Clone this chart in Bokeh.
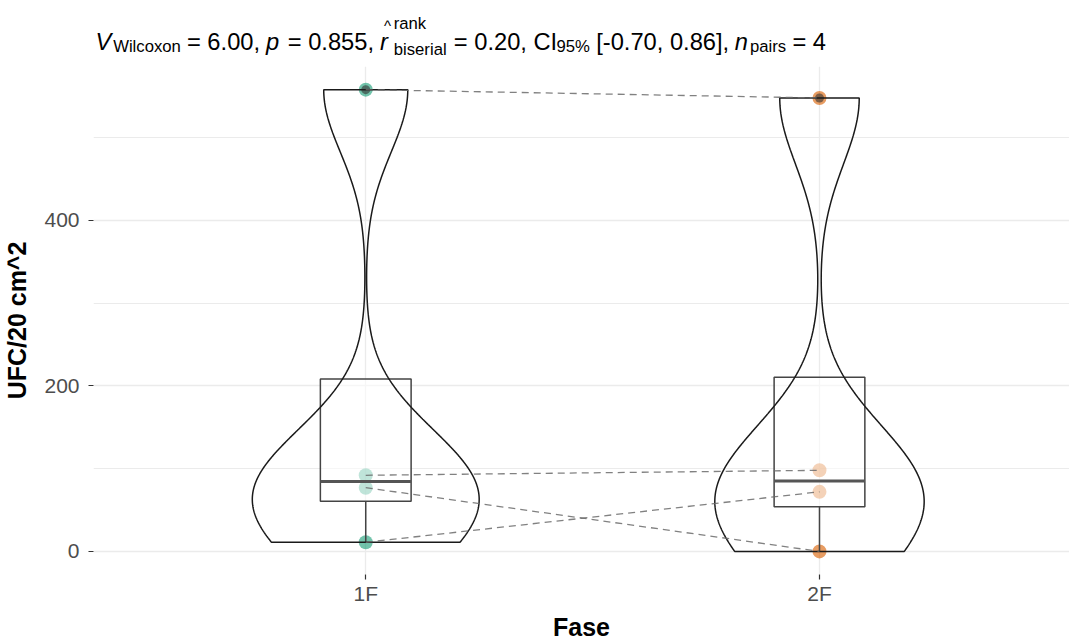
import numpy as np
from bokeh.plotting import figure
from bokeh.layouts import column
from bokeh.models import Range1d, FixedTicker
from bokeh.core.properties import value
from bokeh.embed import file_html
from bokeh.resources import INLINE

# ---------------- data ----------------
phases = ["1F", "2F"]
ufc_1f = [558, 92, 77, 11]
ufc_2f = [548, 98, 0, 72]
phase_colors = ["#1B9E77", "#D95F02"]
y_ticks = [0, 200, 400]
y_minor_ticks = [100, 300, 500]
x_label = "Fase"
y_label = "UFC/20 cm^2"

# subtitle pieces: (text, role)
subtitle = [
    ("V", "it"), ("Wilcoxon", "sub"), (" = 6.00, ", "main"),
    ("p", "it"), (" = 0.855, ", "main"),
    ("r", "rhat"), ("rank|biserial", "supsub"), (" = 0.20, CI", "main"),
    ("95%", "sub"), (" [-0.70, 0.86], ", "main"),
    ("n", "it"), ("pairs", "sub"), (" = 4", "main"),
]

FONT = "Liberation Sans"
groups = [ufc_1f, ufc_2f]
xpos = [1, 2]
TITLE_H = 66

p = figure(frame_width=976, frame_height=508, output_backend="svg", toolbar_location=None,
           x_range=Range1d(0.4, 2.551), y_range=Range1d(-27.9, 586.0),
           min_border_left=86, min_border_right=0, min_border_top=0, min_border_bottom=60)
p.outline_line_color = None
p.background_fill_color = "white"
p.border_fill_color = "white"

# axes
p.xaxis.ticker = FixedTicker(ticks=xpos)
p.xaxis.major_label_overrides = {x: lab for x, lab in zip(xpos, phases)}
p.yaxis.ticker = FixedTicker(ticks=y_ticks, minor_ticks=y_minor_ticks)
for ax in (p.xaxis[0], p.yaxis[0]):
    ax.axis_line_color = None
    ax.major_tick_line_color = "#333333"
    ax.major_tick_line_width = 1.2
    ax.major_tick_out = 5
    ax.major_tick_in = 0
    ax.minor_tick_line_color = None
    ax.major_label_text_font = FONT
    ax.major_label_text_font_size = "21px"
    ax.major_label_text_color = "#4D4D4D"
    ax.axis_label_text_font = FONT
    ax.axis_label_text_font_size = "25px"
    ax.axis_label_text_font_style = "bold"
    ax.axis_label_text_color = "black"
p.xaxis.axis_label = x_label
p.yaxis.axis_label = y_label
p.xaxis.major_label_standoff = 2
p.xaxis.axis_label_standoff = 5
p.yaxis.major_label_standoff = 9
p.yaxis.axis_label_standoff = 10

p.xgrid.grid_line_color = "#EBEBEB"
p.xgrid.grid_line_width = 1.3
p.ygrid.grid_line_color = "#EBEBEB"
p.ygrid.grid_line_width = 1.3
p.ygrid.minor_grid_line_color = "#EBEBEB"
p.ygrid.minor_grid_line_width = 1.0


def bw_nrd0(v):
    v = np.asarray(v, float)
    sd = v.std(ddof=1)
    iqr = np.percentile(v, 75) - np.percentile(v, 25)
    lo = min(sd, iqr / 1.34)
    return 0.9 * lo * len(v) ** (-0.2)


# violin densities (scale = "area")
dens = []
for v in groups:
    v = np.asarray(v, float)
    bw = bw_nrd0(v)
    yy = np.linspace(v.min(), v.max(), 512)
    d = np.exp(-0.5 * ((yy[:, None] - v[None, :]) / bw) ** 2).sum(1) / (len(v) * bw * np.sqrt(2 * np.pi))
    dens.append((yy, d))
dmax = max(d.max() for _, d in dens)

# points
for xc, v, col in zip(xpos, groups, phase_colors):
    p.scatter([xc] * len(v), v, size=14, fill_color=col, fill_alpha=0.62, line_color=None)

# boxes
for xc, v in zip(xpos, groups):
    v = np.asarray(v, float)
    q1, med, q3 = np.percentile(v, [25, 50, 75])
    iqr = q3 - q1
    inside = v[(v >= q1 - 1.5 * iqr) & (v <= q3 + 1.5 * iqr)]
    lo, hi = inside.min(), inside.max()
    p.quad(left=xc - 0.1, right=xc + 0.1, bottom=q1, top=q3, fill_color="white", fill_alpha=0.55,
           line_color="#444444", line_width=1.5)
    if lo < q1:
        p.segment(x0=xc, y0=q1, x1=xc, y1=lo, line_color="#444444", line_width=1.5)
    if hi > q3:
        p.segment(x0=xc, y0=q3, x1=xc, y1=hi, line_color="#444444", line_width=1.5)
    p.segment(x0=xc - 0.1, y0=med, x1=xc + 0.1, y1=med, line_color="#555555", line_width=3)
    out = v[(v < q1 - 1.5 * iqr) | (v > q3 + 1.5 * iqr)]
    if len(out):
        p.scatter([xc] * len(out), out, size=9, fill_color="#333333", fill_alpha=0.6, line_color=None)

# violins
for xc, (yy, d) in zip(xpos, dens):
    hw = d / dmax * 0.25
    xs = np.concatenate([xc - hw, (xc + hw)[::-1]])
    ys = np.concatenate([yy, yy[::-1]])
    p.patch(xs, ys, fill_color=None, line_color="#1A1A1A", line_width=1.5)

# paired dashed paths
for a, b in zip(ufc_1f, ufc_2f):
    p.line([xpos[0], xpos[1]], [a, b], line_color="#6B6B6B", line_alpha=0.85, line_width=1.3,
           line_dash="7 5")

# ---------------- subtitle figure (frame aligned with main frame: x 94..1070) ----------------
pt = figure(width=1062, height=TITLE_H, output_backend="svg", toolbar_location=None,
            x_range=Range1d(94, 1070), y_range=Range1d(0, TITLE_H), min_border=0,
            min_border_left=86, x_axis_location=None, y_axis_location=None)
pt.grid.visible = False
pt.outline_line_color = None

WID = {' ': 278, '%': 889, ',': 278, '-': 333, '.': 278, '=': 584, 'C': 722, 'I': 278,
       'V': 667, 'W': 944, '[': 278, ']': 278, '^': 469, 'a': 556, 'b': 556, 'c': 500,
       'e': 556, 'i': 222, 'k': 500, 'l': 222, 'n': 556, 'o': 556, 'p': 556, 'r': 333,
       's': 500, 'x': 500}
for ch in "0123456789":
    WID[ch] = 556


def tw(s, size):
    return sum(WID.get(c, 556) for c in s) / 1000.0 * size


M, S = 23.7, 16.7
BASE_MAIN, BASE_SUB, BASE_SUP, BASE_SUB2 = 41, 46, 23, 49   # page y of baselines


def put(text, ximg, yimg, size, style="normal"):
    lead = len(text) - len(text.lstrip(" "))
    ximg = ximg + tw(" " * lead, size)
    pt.text(x=[ximg], y=[TITLE_H - yimg], text=[text.strip(" ")], text_font=value(FONT),
            text_font_size=f"{size}px", text_font_style=style, text_color="black",
            text_baseline="alphabetic", text_align="left")


cur = 96.0
for text, role in subtitle:
    if role == "main":
        put(text, cur, BASE_MAIN, M)
        cur += tw(text, M)
    elif role == "it":
        put(text, cur, BASE_MAIN, M, "italic")
        cur += tw(text, M) + 2
    elif role == "sub":
        put(text, cur, BASE_SUB, S)
        cur += tw(text, S)
    elif role == "rhat":
        put(text, cur, BASE_MAIN, M, "italic")
        put("^", cur + 4, 25, 15)
        cur += tw(text, M) + 6
    elif role == "supsub":
        sup, sb = text.split("|")
        put(sup, cur, BASE_SUP, S)
        put(sb, cur, BASE_SUB2, S)
        cur += max(tw(sup, S), tw(sb, S)) + 1

layout = column(pt, p, spacing=0)
open("out.html", "w").write(file_html(layout, INLINE))
